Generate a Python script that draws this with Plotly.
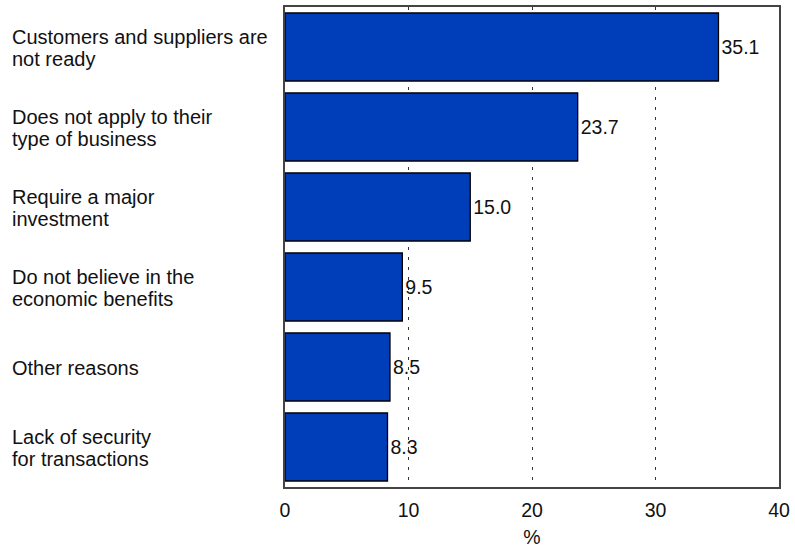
import plotly.graph_objects as go

categories = [
    "Customers and suppliers are<br>not ready",
    "Does not apply to their<br>type of business",
    "Require a major<br>investment",
    "Do not believe in the<br>economic benefits",
    "Other reasons",
    "Lack of security<br>for transactions",
]
values = [35.1, 23.7, 15.0, 9.5, 8.5, 8.3]
value_labels = ["35.1", "23.7", "15.0", "9.5", "8.5", "8.3"]
x_ticks = [0, 10, 20, 30, 40]

FONT = "Liberation Sans, Arial, sans-serif"
FS = 20
W, H = 795, 550
ML, MR, MT, MB = 285, 16, 5, 63
PW = W - ML - MR

fig = go.Figure(
    go.Bar(
        x=values,
        y=list(range(len(categories))),
        orientation="h",
        width=0.85,
        marker=dict(color="rgb(0,61,184)", line=dict(color="#000000", width=1.3)),
        text=value_labels,
        textposition="outside",
        textfont=dict(family=FONT, size=FS - 0.5, color="#111111"),
        cliponaxis=False,
        hoverinfo="skip",
    )
)

annotations = []
for i, cat in enumerate(categories):
    lines = cat.split("<br>")
    n = len(lines)
    for j, line in enumerate(lines):
        shift = (n - 1) / 2 * 22 - j * 22 - 1
        annotations.append(
            dict(
                text=line,
                xref="paper",
                x=(10 - ML) / PW,
                xanchor="left",
                yref="y",
                y=i,
                yanchor="middle",
                yshift=shift,
                showarrow=False,
                font=dict(family=FONT, size=FS, color="#111111"),
                align="left",
            )
        )

fig.update_layout(
    width=W,
    height=H,
    margin=dict(l=ML, r=MR, t=MT, b=MB),
    plot_bgcolor="white",
    paper_bgcolor="white",
    showlegend=False,
    annotations=annotations,
    font=dict(family=FONT, size=FS, color="#111111"),
    xaxis=dict(
        range=[0, 40],
        tickvals=x_ticks,
        ticktext=[str(t) for t in x_ticks],
        showgrid=True,
        gridcolor="#333333",
        gridwidth=1,
        griddash="3px,7px",
        zeroline=False,
        showline=True,
        linecolor="#444444",
        linewidth=1.5,
        mirror=True,
        ticks="",
        ticklabelstandoff=5,
        tickfont=dict(family=FONT, size=FS - 0.5, color="#111111"),
        title=dict(text="%", font=dict(family=FONT, size=FS - 0.5, color="#111111"), standoff=10),
    ),
    yaxis=dict(
        range=[len(categories) - 0.5, -0.5],
        showticklabels=False,
        showgrid=False,
        zeroline=False,
        showline=True,
        linecolor="#444444",
        linewidth=1.5,
        mirror=True,
        ticks="",
    ),
)

fig.write_html("out.html")
